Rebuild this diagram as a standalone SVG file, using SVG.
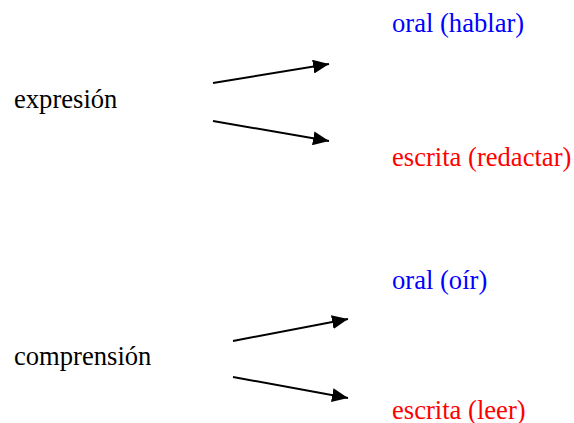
<svg xmlns="http://www.w3.org/2000/svg" width="574" height="423" viewBox="0 0 574 423">
<defs>
<marker id="ah" markerWidth="8" markerHeight="7" refX="8" refY="3.5" orient="auto" markerUnits="strokeWidth">
<path d="M0,0 L8,3.5 L0,7 Z" fill="#000"/>
</marker>
</defs>
<style>
text{font-family:"Liberation Serif","Times New Roman",serif;font-size:26.6px}
.k{fill:#000}.b{fill:#0000ff}.r{fill:#ff0000}
.c line{stroke:#000;stroke-width:2;marker-end:url(#ah)}
</style>
<rect width="574" height="423" fill="#fff"/>
<g id="expresion"><text class="k" x="14" y="108">expresión</text></g>
<g id="oral-hablar"><text class="b" x="392" y="32">oral (hablar)</text></g>
<g id="escrita-redactar"><text class="r" x="392" y="166">escrita (redactar)</text></g>
<g id="comprension"><text class="k" x="14" y="365">comprensión</text></g>
<g id="oral-oir"><text class="b" x="392" y="289">oral (oír)</text></g>
<g id="escrita-leer"><text class="r" x="392" y="419">escrita (leer)</text></g>
<g class="c" id="connectors">
<line x1="213" y1="83" x2="329" y2="64"/>
<line x1="213" y1="121" x2="329" y2="141"/>
<line x1="233" y1="341" x2="348" y2="319"/>
<line x1="233" y1="377" x2="348" y2="398"/>
</g>
</svg>
